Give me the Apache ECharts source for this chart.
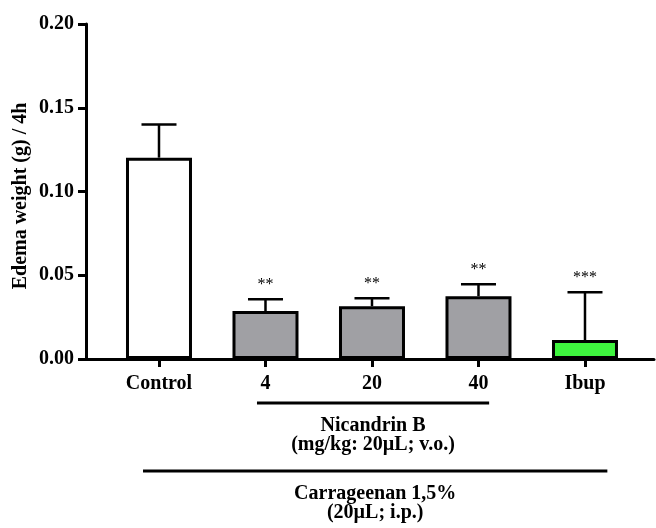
<!DOCTYPE html>
<html>
<head>
<meta charset="utf-8">
<script src="https://cdn.jsdelivr.net/npm/echarts@6/dist/echarts.min.js"></script>
<style>
  html, body { margin: 0; padding: 0; background: #fff; }
  #chart { width: 656px; height: 528px; }
</style>
</head>
<body>
<div id="chart"></div>
<script>
// dados
const categorias = ["Control", "4", "20", "40", "Ibup"];
const medias = [0.1202, 0.0286, 0.0315, 0.0375, 0.0113];
const erros = [0.0198, 0.0071, 0.0048, 0.0071, 0.0286];
const significancia = ["", "**", "**", "**", "***"];
const cores = ["#ffffff", "#a0a0a4", "#a0a0a4", "#a0a0a4", "#3ef43e"];
const yTicks = [0, 0.05, 0.1, 0.15, 0.2];

// grupos abaixo do eixo x (inicio/fim em unidades de categoria)
const grupoNicandrin = { inicio: 0.92, fim: 3.1, texto: ["Nicandrin B", "(mg/kg: 20µL; v.o.)"] };
const grupoCarragenina = { inicio: -0.15, fim: 4.21, texto: ["Carrageenan 1,5%", "(20µL; i.p.)"] };

const fonte = "'Liberation Serif', 'Times New Roman', serif";

const chartDom = document.getElementById("chart");
const myChart = echarts.init(chartDom);

const option = {
  animation: false,
  grid: { left: 86, right: 2, top: 24, bottom: 169 },
  xAxis: {
    type: "value",
    min: -0.6854,
    max: 4.648,
    splitLine: { show: false },
    axisLine: { lineStyle: { color: "#000", width: 3 } },
    axisTick: {
      show: true,
      customValues: categorias.map((c, i) => i),
      length: 8,
      lineStyle: { color: "#000", width: 3 },
    },
    axisLabel: {
      customValues: categorias.map((c, i) => i),
      formatter: (v) => categorias[Math.round(v)],
      color: "#000",
      fontFamily: fonte,
      fontWeight: "bold",
      fontSize: 20,
      margin: 15,
    },
  },
  yAxis: {
    type: "value",
    min: yTicks[0],
    max: yTicks[yTicks.length - 1],
    interval: 0.05,
    splitLine: { show: false },
    axisLine: { show: true, onZero: false, lineStyle: { color: "#000", width: 3 } },
    axisTick: { show: true, length: 8, lineStyle: { color: "#000", width: 3 } },
    axisLabel: {
      formatter: (value) => parseFloat(value).toFixed(2),
      color: "#000",
      fontFamily: fonte,
      fontWeight: "bold",
      fontSize: 20,
      margin: 12,
    },
  },
  series: [
    {
      type: "custom",
      name: "erro",
      z: 1,
      data: medias.map((m, i) => [i, m, m + erros[i]]),
      renderItem: (params, api) => {
        const base = api.coord([api.value(0), api.value(1)]);
        const topo = api.coord([api.value(0), api.value(2)]);
        const i = params.dataIndex;
        return {
          type: "group",
          children: [
            {
              type: "line",
              shape: { x1: base[0], y1: base[1], x2: topo[0], y2: topo[1] },
              style: { stroke: "#000", lineWidth: 2.5 },
            },
            {
              type: "line",
              shape: { x1: topo[0] - 17.5, y1: topo[1], x2: topo[0] + 17.5, y2: topo[1] },
              style: { stroke: "#000", lineWidth: 2.5 },
            },
            {
              type: "text",
              x: topo[0],
              y: topo[1] - 6,
              style: {
                text: significancia[i],
                fill: "#000",
                font: "16px " + fonte,
                align: "center",
                verticalAlign: "bottom",
              },
            },
          ],
        };
      },
    },
    {
      type: "bar",
      name: "media",
      z: 2,
      barWidth: 66,
      data: medias.map((m, i) => ({
        value: [i, m],
        itemStyle: { color: cores[i], borderColor: "#000", borderWidth: 3 },
      })),
    },
  ],
};
myChart.setOption(option);

// linhas e textos dos grupos abaixo do eixo
function desenhaGrupos() {
  const itens = [];
  const yaxis = myChart.convertToPixel({ gridIndex: 0 }, [0, 0])[1];
  [
    { g: grupoNicandrin, dyLinha: 44, dyTexto: 67 },
    { g: grupoCarragenina, dyLinha: 112, dyTexto: 135 },
  ].forEach(({ g, dyLinha, dyTexto }) => {
    const x1 = myChart.convertToPixel({ gridIndex: 0 }, [g.inicio, 0])[0];
    const x2 = myChart.convertToPixel({ gridIndex: 0 }, [g.fim, 0])[0];
    itens.push({
      type: "line",
      shape: { x1: x1, y1: yaxis + dyLinha, x2: x2, y2: yaxis + dyLinha },
      style: { stroke: "#000", lineWidth: 3 },
    });
    g.texto.forEach((t, k) => {
      itens.push({
        type: "text",
        x: (x1 + x2) / 2,
        y: yaxis + dyTexto + k * 18.5,
        style: {
          text: t,
          fill: "#000",
          font: "bold 20px " + fonte,
          align: "center",
          verticalAlign: "middle",
        },
      });
    });
  });
  itens.push({
    type: "text",
    x: 21,
    y: 196,
    rotation: Math.PI / 2,
    style: {
      text: "Edema weight (g) / 4h",
      fill: "#000",
      font: "bold 20px " + fonte,
      align: "center",
      verticalAlign: "middle",
    },
  });
  myChart.setOption({ graphic: itens });
}
desenhaGrupos();
</script>
</body>
</html>
